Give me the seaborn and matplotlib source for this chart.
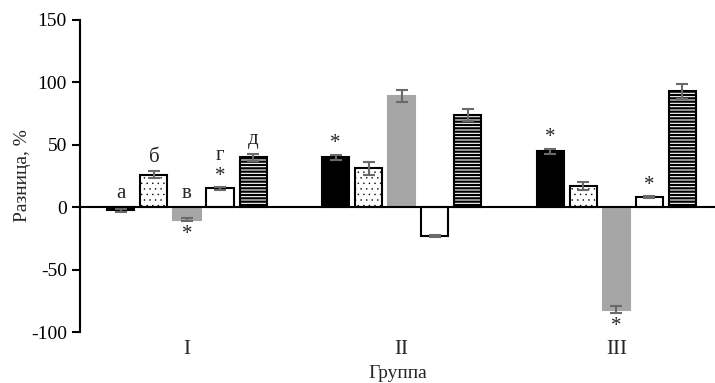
import pandas as pd
import matplotlib
matplotlib.use("Agg")
import matplotlib.pyplot as plt
import seaborn as sns

# data
groups = ["I", "II", "III"]
series = ["а", "б", "в", "г", "д"]

val_a = [-2.5, 40, 45]
val_b = [26, 31, 17]
val_v = [-10, 89, -82]
val_g = [15, -23, 8]
val_d = [40, 74, 93]

err_a = [1, 2, 2]
err_b = [3, 5, 3]
err_v = [1, 5, 3]
err_g = [1, 1, 1]
err_d = [3, 5, 6]

# significance marks: (series index, group index, above?)
stars = [(2, 0, False), (3, 0, True), (0, 1, True),
         (0, 2, True), (2, 2, False), (3, 2, True)]

values = [val_a, val_b, val_v, val_g, val_d]
errors = [err_a, err_b, err_v, err_g, err_d]

rows = []
for s, vals in zip(series, values):
    for g, v in zip(groups, vals):
        rows.append({"Группа": g, "series": s, "value": v})
df = pd.DataFrame(rows)

sns.set_theme(style="white")
plt.rcParams["font.family"] = ["Liberation Serif", "DejaVu Serif"]
plt.rcParams["axes.unicode_minus"] = False
plt.rcParams["hatch.linewidth"] = 1.6

fig = plt.figure(figsize=(7.15, 3.83), dpi=100)
ax = fig.add_axes([0.112, 0.133, 0.888, 0.815])

colors = ["black", "white", "#a6a6a6", "white", "white"]
sns.barplot(data=df, x="Группа", y="value", hue="series", order=groups,
            hue_order=series, palette=colors, width=0.77, gap=0.18,
            errorbar=None, legend=False, ax=ax, zorder=2)

bar_sets = [list(c.patches) for c in ax.containers]

hatches = [None, "...", None, None, "-----"]
for i, bars in enumerate(bar_sets):
    for j, bar in enumerate(bars):
        if i == 2:
            bar.set_edgecolor("#a6a6a6")
        else:
            bar.set_edgecolor("black")
        bar.set_linewidth(1.5)
        if hatches[i]:
            bar.set_hatch(hatches[i])
            if i == 1 and hasattr(bar, "set_hatch_linewidth"):
                bar.set_hatch_linewidth(0.3)
        x = bar.get_x() + bar.get_width() / 2
        v = values[i][j]
        e = errors[i][j]
        ax.errorbar(x, v, yerr=e, fmt="none", ecolor="#6a6a6a",
                    elinewidth=1.5, capsize=4, capthick=1.5, zorder=3)

# letters over the first group
for i, bars in enumerate(bar_sets):
    bar = bars[0]
    x = bar.get_x() + bar.get_width() / 2
    top = max(values[i][0], 0) + (errors[i][0] if values[i][0] > 0 else 0)
    extra = 13 if ((3, 0, True) in stars and i == 3) else 0
    ax.annotate(series[i], (x, top), xytext=(0, 3 + extra),
                textcoords="offset points", ha="center", va="bottom",
                fontsize=15)

for i, j, above in stars:
    bar = bar_sets[i][j]
    x = bar.get_x() + bar.get_width() / 2
    v = values[i][j]
    e = errors[i][j]
    if above:
        ax.annotate("*", (x, v + e), xytext=(0, 1), textcoords="offset points",
                    ha="center", va="bottom", fontsize=15)
    else:
        ax.annotate("*", (x, v - e), xytext=(0, -3), textcoords="offset points",
                    ha="center", va="top", fontsize=15)

ax.axhline(0, color="black", lw=1.5, zorder=4)
ax.set_ylim(-100, 150)
ax.set_xlim(-0.498, 2.46)
ax.set_yticks([-100, -50, 0, 50, 100, 150])
ax.set_ylabel("Разница, %", fontsize=14, labelpad=0)
ax.set_xlabel("Группа", fontsize=14, labelpad=4)

for side in ["top", "right", "bottom"]:
    ax.spines[side].set_visible(False)
ax.spines["left"].set_linewidth(1.5)
ax.spines["left"].set_color("black")
ax.tick_params(axis="y", length=6, width=1.5, labelsize=14, direction="out",
               left=True, colors="black")
ax.tick_params(axis="x", length=0, labelsize=15, pad=6)

plt.savefig("out.png", dpi=100)
